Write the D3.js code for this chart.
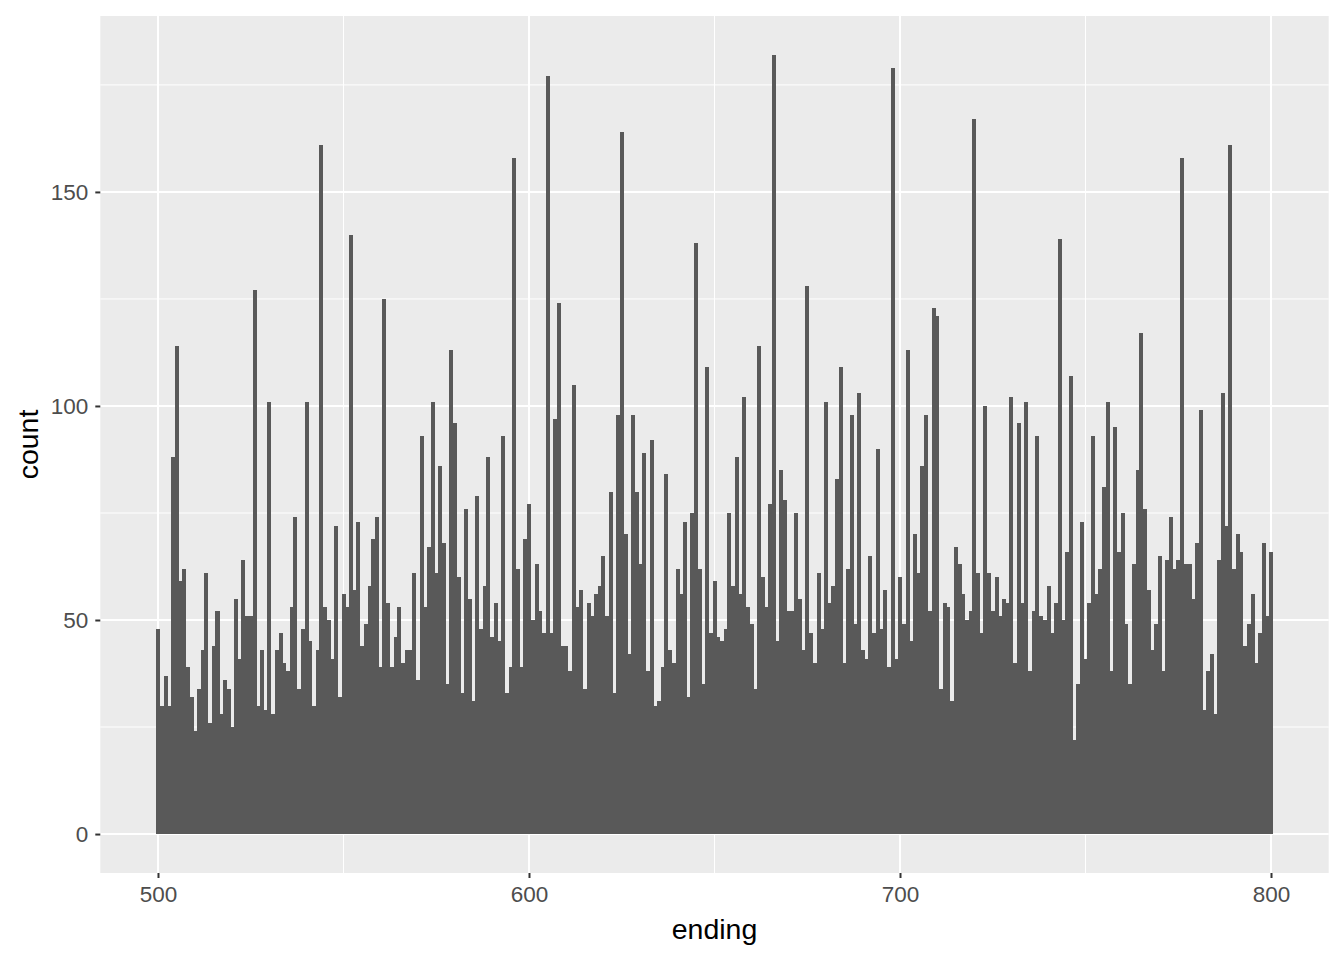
<!DOCTYPE html>
<html>
<head>
<meta charset="utf-8">
<script src="https://cdn.jsdelivr.net/npm/d3@7"></script>
<style>
  body { margin: 0; background: #fff; }
  text { font-family: "Liberation Sans", Arial, sans-serif; }
</style>
</head>
<body>
<div id="chart"></div>
<script>
// bin centres (binwidth 1)
const endings = d3.range(500, 801);

// counts per bin
const counts = [
  48,30,37,30,88,114,59,62,39,32,24,34,43,61,26,44,52,28,36,34,25,55,41,64,
  51,51,127,30,43,29,101,28,43,47,40,38,53,74,34,48,101,45,30,43,161,53,50,41,72,
  32,56,53,140,57,73,44,49,58,69,74,39,125,54,39,46,53,40,43,43,61,36,93,53,67,
  101,61,86,68,35,113,96,60,33,76,55,31,79,48,58,88,46,54,45,93,33,39,158,62,39,69,
  77,50,63,52,47,177,47,97,124,44,44,38,105,53,57,34,54,51,56,58,65,51,80,33,98,
  164,70,42,98,80,63,89,38,92,30,31,39,84,43,40,62,56,73,32,75,138,62,35,109,47,59,
  46,45,48,75,58,88,56,102,53,49,34,114,60,53,77,182,45,85,78,52,52,75,55,43,128,
  47,40,61,48,101,54,58,83,109,40,62,98,49,103,43,41,65,47,90,48,57,39,179,41,60,
  49,113,45,70,61,86,98,52,123,121,34,54,53,31,67,63,56,50,52,167,61,47,100,61,52,60,
  51,55,54,102,40,96,54,101,38,52,93,51,50,58,47,54,139,50,66,107,22,35,73,41,54,
  93,56,62,81,101,38,95,66,75,49,35,63,85,117,76,57,43,49,65,38,64,74,62,64,158,
  63,63,55,68,99,29,38,42,28,64,103,72,161,62,70,66,44,49,56,40,47,68,51,66
];

const xTicks = [500, 600, 700, 800];
const xMinor = [550, 650, 750];
const yTicks = [0, 50, 100, 150];
const yMinor = [25, 75, 125, 175];

const data = endings.map((e, i) => ({ ending: e, count: counts[i] }));

const w = 1344;
const h = 960;
// panel edges
const pLeft = 100.3, pRight = 1328.7, pTop = 16, pBottom = 873;

// ggplot style 5% expansion
const xLo = 499.5, xHi = 800.5;
const xPad = (xHi - xLo) * 0.05;
const yMax = d3.max(counts);
const yPad = yMax * 0.05;

const xScale = d3.scaleLinear()
    .domain([xLo - xPad, xHi + xPad])
    .range([pLeft, pRight]);

const yScale = d3.scaleLinear()
    .domain([-yPad, yMax + yPad])
    .range([pBottom, pTop]);

const svg = d3.select('#chart')
    .append('svg')
    .attr('width', w)
    .attr('height', h);

// panel background
svg.append('rect')
    .attr('x', pLeft)
    .attr('y', pTop)
    .attr('width', pRight - pLeft)
    .attr('height', pBottom - pTop)
    .attr('fill', '#EBEBEB');

// minor grid
svg.append('g').selectAll('line')
    .data(yMinor)
    .enter()
    .append('line')
    .attr('x1', pLeft).attr('x2', pRight)
    .attr('y1', (d) => yScale(d)).attr('y2', (d) => yScale(d))
    .attr('stroke', '#fff').attr('stroke-width', 1);

svg.append('g').selectAll('line')
    .data(xMinor)
    .enter()
    .append('line')
    .attr('y1', pTop).attr('y2', pBottom)
    .attr('x1', (d) => xScale(d)).attr('x2', (d) => xScale(d))
    .attr('stroke', '#fff').attr('stroke-width', 1);

// major grid
svg.append('g').selectAll('line')
    .data(yTicks)
    .enter()
    .append('line')
    .attr('x1', pLeft).attr('x2', pRight)
    .attr('y1', (d) => yScale(d)).attr('y2', (d) => yScale(d))
    .attr('stroke', '#fff').attr('stroke-width', 2);

svg.append('g').selectAll('line')
    .data(xTicks)
    .enter()
    .append('line')
    .attr('y1', pTop).attr('y2', pBottom)
    .attr('x1', (d) => xScale(d)).attr('x2', (d) => xScale(d))
    .attr('stroke', '#fff').attr('stroke-width', 2);

// bars
svg.append('g')
    .attr('shape-rendering', 'crispEdges')
    .selectAll('rect')
    .data(data)
    .enter()
    .append('rect')
    .attr('x', (d) => xScale(d.ending - 0.5))
    .attr('width', (d) => xScale(d.ending + 0.5) - xScale(d.ending - 0.5) + 0.3)
    .attr('y', (d) => yScale(d.count))
    .attr('height', (d) => yScale(0) - yScale(d.count))
    .attr('fill', '#595959');

// axes
const xAxis = d3.axisBottom(xScale).tickValues(xTicks).tickSize(5).tickPadding(8);
const yAxis = d3.axisLeft(yScale).tickValues(yTicks).tickSize(5).tickPadding(7);

const gx = svg.append('g')
    .attr('transform', 'translate(0,' + pBottom + ')')
    .call(xAxis);
const gy = svg.append('g')
    .attr('transform', 'translate(' + pLeft + ',0)')
    .call(yAxis);

[gx, gy].forEach((g) => {
  g.select('.domain').remove();
  g.selectAll('.tick line').attr('stroke', '#333333').attr('stroke-width', 2);
  g.selectAll('.tick text')
      .attr('fill', '#4D4D4D')
      .style('font-size', '22.5px')
      .style('font-family', '"Liberation Sans", Arial, sans-serif');
});

// axis titles
svg.append('text')
    .attr('x', (pLeft + pRight) / 2)
    .attr('y', 939)
    .attr('text-anchor', 'middle')
    .style('font-size', '28.5px')
    .attr('fill', '#000')
    .text('ending');

svg.append('text')
    .attr('transform', 'translate(38,' + (pTop + pBottom) / 2 + ') rotate(-90)')
    .attr('text-anchor', 'middle')
    .style('font-size', '28.5px')
    .attr('fill', '#000')
    .text('count');
</script>
</body>
</html>
